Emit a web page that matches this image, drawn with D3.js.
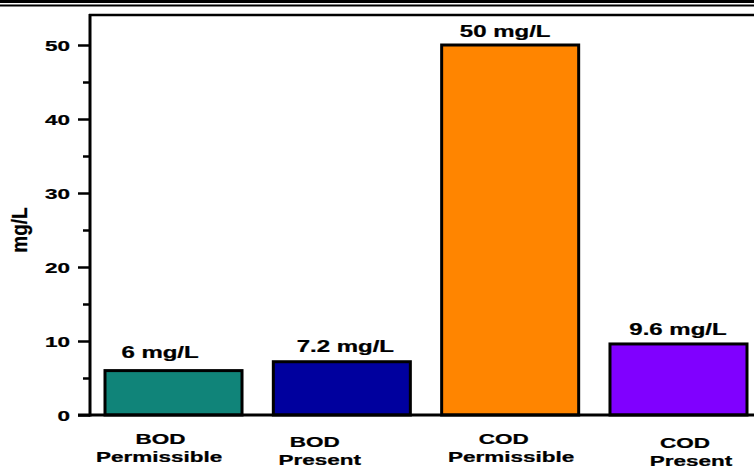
<!DOCTYPE html>
<html>
<head>
<meta charset="utf-8">
<script src="https://cdn.jsdelivr.net/npm/d3@7"></script>
<style>
  html, body { margin: 0; padding: 0; background: #fff; }
  svg { display: block; }
  text { font-family: "Liberation Sans", Arial, sans-serif; font-weight: bold; fill: #000; stroke: #000; stroke-width: 0.25px; }
</style>
</head>
<body>
<svg id="chart" width="754" height="467"></svg>
<script>
// ---- data ----
const categories = ["BOD Permissible", "BOD Present", "COD Permissible", "COD Present"];
const categoryLines = [["BOD", "Permissible"], ["BOD", "Present"], ["COD", "Permissible"], ["COD", "Present"]];
const values = [6, 7.2, 50, 9.6];
const valueLabels = ["6 mg/L", "7.2 mg/L", "50 mg/L", "9.6 mg/L"];
const majorTicks = [0, 10, 20, 30, 40, 50];
const minorTicks = [5, 15, 25, 35, 45];
const yTitle = "mg/L";

// ---- style ----
const colors = ["#108479", "#00009e", "#ff8500", "#8000ff"];
const stretch = 1.5; // text appears horizontally stretched
const labelNudge = [[-13, -14.5], [-27, -22], [-6.5, 1], [6.5, 12.5]];   // per-line dx of category labels
const labelBase = [[444, 462], [447, 464.5], [444, 462], [448, 465.5]];
const valueNudge = [-13.5, 3.5, -5, -0.5];
const valueGap = [12.5, 9.5, 8, 9];

const svg = d3.select("#chart");

// top double rule
svg.append("rect").attr("x", 0).attr("y", 0).attr("width", 754).attr("height", 3).attr("fill", "#000");
svg.append("rect").attr("x", 0).attr("y", 4.5).attr("width", 754).attr("height", 2).attr("fill", "#000");

const x = d3.scaleBand().domain(categories).range([105, 747]).paddingInner(0.186).paddingOuter(0);
const y = d3.scaleLinear().domain([0, 50]).range([415, 45]);

// bars
svg.append("g").selectAll("rect").data(categories).join("rect")
  .attr("x", d => x(d))
  .attr("y", (d, i) => y(values[i]))
  .attr("width", x.bandwidth())
  .attr("height", (d, i) => y(0) - y(values[i]))
  .attr("fill", (d, i) => colors[i])
  .attr("stroke", "#000")
  .attr("stroke-width", 3);

// frame top line
svg.append("line").attr("x1", 89).attr("x2", 754).attr("y1", 15).attr("y2", 15)
  .attr("stroke", "#000").attr("stroke-width", 2.5);

// y axis (major)
const yAxis = svg.append("g").attr("transform", "translate(90,0)")
  .call(d3.axisLeft(y).tickValues(majorTicks).tickSize(12).tickPadding(0).tickFormat(d3.format("d")));
yAxis.select(".domain").remove();
yAxis.selectAll(".tick line").attr("stroke", "#000").attr("stroke-width", 2.5);
yAxis.selectAll(".tick text")
  .attr("x", null).attr("dy", null).attr("text-anchor", "end")
  .attr("transform", `translate(-20,5.5) scale(${stretch},1)`)
  .style("font-size", "15px");

// y axis (minor)
const yMinor = svg.append("g").attr("transform", "translate(90,0)")
  .call(d3.axisLeft(y).tickValues(minorTicks).tickSize(7).tickFormat(""));
yMinor.select(".domain").remove();
yMinor.selectAll(".tick line").attr("stroke", "#000").attr("stroke-width", 2.5);

// axis lines
svg.append("line").attr("x1", 90).attr("x2", 90).attr("y1", 14).attr("y2", 416.5)
  .attr("stroke", "#000").attr("stroke-width", 3);
svg.append("line").attr("x1", 78).attr("x2", 754).attr("y1", 415).attr("y2", 415)
  .attr("stroke", "#000").attr("stroke-width", 3);

// value labels
svg.append("g").selectAll("text").data(categories).join("text")
  .attr("text-anchor", "middle")
  .attr("transform", (d, i) => `translate(${x(d) + x.bandwidth() / 2 + valueNudge[i]},${y(values[i]) - valueGap[i]}) scale(${stretch},1)`)
  .style("font-size", "16px")
  .text((d, i) => valueLabels[i]);

// category labels
const cat = svg.append("g").selectAll("g").data(categories).join("g");
cat.each(function (d, i) {
  const g = d3.select(this);
  categoryLines[i].forEach((line, j) => {
    g.append("text")
      .attr("text-anchor", "middle")
      .attr("transform", `translate(${x(d) + x.bandwidth() / 2 + labelNudge[i][j]},${labelBase[i][j]}) scale(${stretch},1)`)
      .style("font-size", "15px")
      .text(line);
  });
});

// y title
svg.append("text")
  .attr("text-anchor", "middle")
  .attr("transform", "translate(27,230) rotate(-90) scale(1,1.15)")
  .style("font-size", "19px")
  .text(yTitle);
</script>
</body>
</html>
